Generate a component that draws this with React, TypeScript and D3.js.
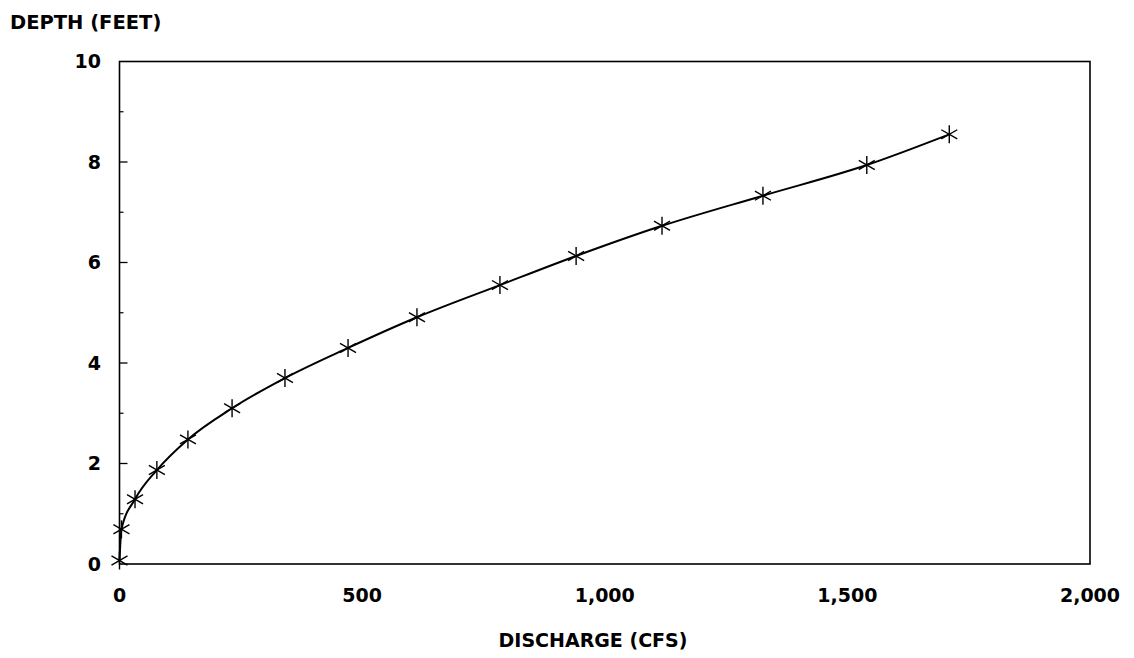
import React from "react";
import * as d3 from "d3";

const discharge = [0, 4, 32, 77, 141, 232, 341, 471, 613, 784, 941, 1118, 1326, 1540, 1710];
const depth = [0.07, 0.69, 1.29, 1.87, 2.48, 3.1, 3.7, 4.3, 4.91, 5.55, 6.13, 6.73, 7.33, 7.94, 8.55];
const xTicks = [0, 500, 1000, 1500, 2000];
const yTicks = [0, 2, 4, 6, 8, 10];
const yMinorTicks = [1, 3, 5, 7, 9];

const W = 1134;
const H = 658;
const M = { left: 119.5, right: 1090, top: 61.5, bottom: 564 };
const FONT = "'DejaVu Sans', sans-serif";

export default function App() {
  const x = d3.scaleLinear().domain([0, 2000]).range([M.left, M.right]);
  const y = d3.scaleLinear().domain([0, 10]).range([M.bottom, M.top]);
  const pts = discharge.map((q, i) => [q, depth[i]] as [number, number]);
  const line = d3
    .line<[number, number]>()
    .x((d) => x(d[0]))
    .y((d) => y(d[1]))
    .curve(d3.curveMonotoneX);
  const fmt = d3.format(",");

  const star = (cx: number, cy: number, k: number) => (
    <g key={k} stroke="#000" strokeWidth={1.4}>
      <line x1={cx} y1={cy - 9} x2={cx} y2={cy + 9} />
      <line x1={cx - 8} y1={cy - 4.6} x2={cx + 8} y2={cy + 4.6} />
      <line x1={cx - 8} y1={cy + 4.6} x2={cx + 8} y2={cy - 4.6} />
    </g>
  );

  return (
    <svg
      width={W}
      height={H}
      style={{ position: "absolute", left: 0, top: 0, background: "#fff" }}
      fontFamily={FONT}
      fontWeight="bold"
    >
      <rect x={0} y={0} width={W} height={H} fill="#fff" />
      <text x={10} y={29} fontSize={19.5} fill="#000">
        DEPTH (FEET)
      </text>
      <rect
        x={M.left}
        y={M.top}
        width={M.right - M.left}
        height={M.bottom - M.top}
        fill="none"
        stroke="#000"
        strokeWidth={1.6}
      />
      {yTicks.map((t) => (
        <g key={"y" + t}>
          {t > 0 && t < 10 && (
            <line x1={M.left} x2={M.left + 8} y1={y(t)} y2={y(t)} stroke="#000" strokeWidth={1.3} />
          )}
          <text
            x={101}
            y={y(t)}
            dy="0.36em"
            textAnchor="end"
            fontSize={19}
            fill="#000"
          >
            {t}
          </text>
        </g>
      ))}
      {yMinorTicks.map((t) => (
        <line key={"ym" + t} x1={M.left} x2={M.left + 4} y1={y(t)} y2={y(t)} stroke="#000" strokeWidth={1.2} />
      ))}
      {xTicks.map((t) => (
        <text key={"x" + t} x={x(t)} y={602} textAnchor="middle" fontSize={19} fill="#000">
          {fmt(t)}
        </text>
      ))}
      <text x={593} y={647} textAnchor="middle" fontSize={19} fill="#000">
        DISCHARGE (CFS)
      </text>
      <path d={line(pts) || ""} fill="none" stroke="#000" strokeWidth={2} />
      {pts.map((p, i) => star(x(p[0]), y(p[1]), i))}
    </svg>
  );
}
